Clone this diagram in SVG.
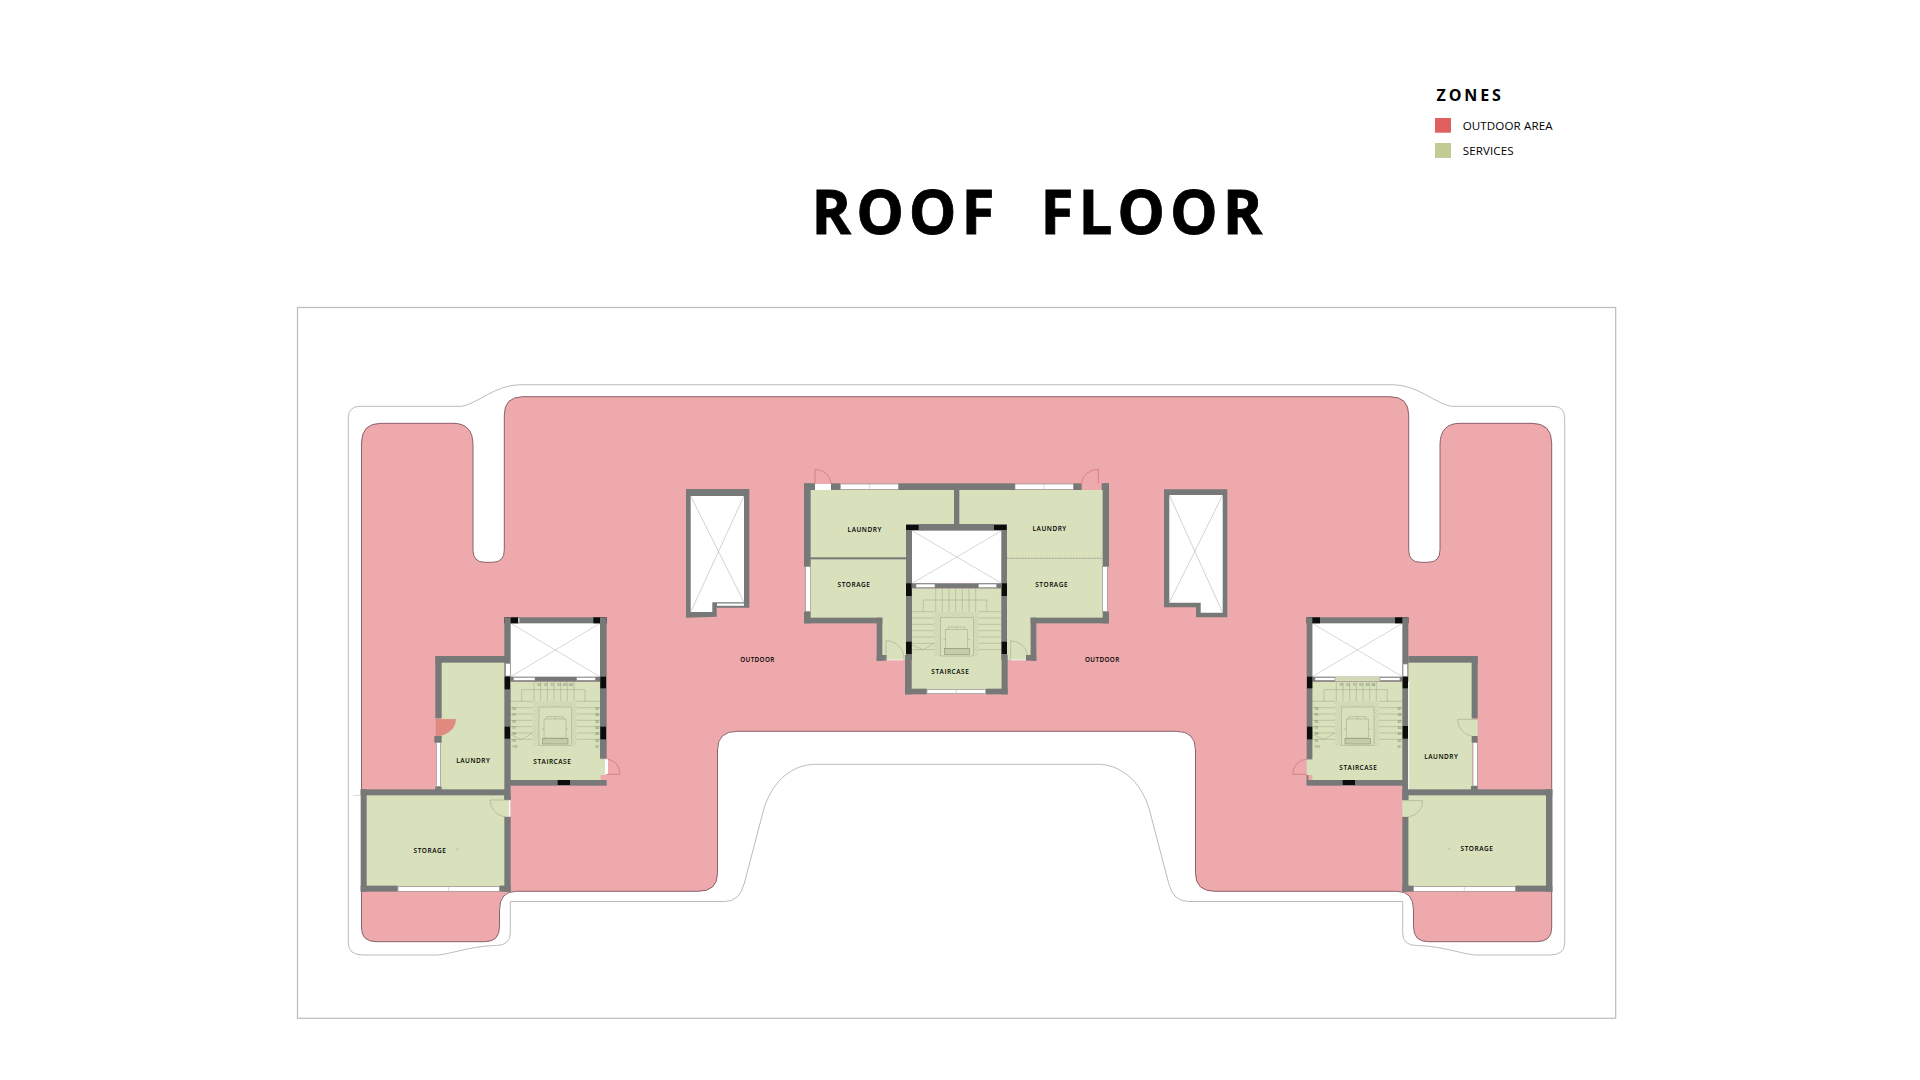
<svg xmlns="http://www.w3.org/2000/svg" width="1920" height="1080" viewBox="0 0 1920 1080">
<style>
text{font-family:"Open Sans","Noto Sans","Liberation Sans",sans-serif;fill:#000}
.w{fill:#777978}.g{fill:#d8e0bc}.k{fill:#0c0c0c}.v{fill:#fff}
.win{fill:#fff;stroke:#8f928a;stroke-width:2}
.x{stroke:#b3b3b0;stroke-width:1.6;fill:none}
.dr{fill:none;stroke:#cf6f70;stroke-width:2}
.dg{fill:none;stroke:#9aa387;stroke-width:1.6}
.s{fill:none;stroke:#939e80;stroke-width:1.3}
.l{font-size:19.5px;font-weight:600;letter-spacing:1.6px;text-anchor:middle}
.n{font-size:10px;fill:#6f7a60;text-anchor:middle}
.lg{font-size:11.6px;letter-spacing:.1px}
</style>
<defs>
<pattern id="hatch" width="7" height="7" patternUnits="userSpaceOnUse" patternTransform="rotate(45)"><rect width="7" height="7" fill="#d8e0bc"/><line x1="0" y1="0" x2="0" y2="7" stroke="#9aa585" stroke-width="1.6"/></pattern>
<g id="stairs">
<path class="s" d="M55 95V60H245V95M92 25V95M112 25V95M132 25V95M152 25V95M172 25V95M192 25V95M212 25V95M20 95H88M20 114H88M20 133H88M20 152H88M20 171H88M20 190H88M20 209H88M220 95H290M220 114H290M220 133H290M220 152H290M220 171H290M220 190H290M220 209H290M20 195L55 209L88 190"/>
<rect x="88" y="95" width="132" height="133" fill="url(#hatch)"/>
<rect x="107" y="112" width="98" height="116" class="g" stroke="#939e80" stroke-width="1.3"/>
<rect x="122" y="148" width="66" height="57" class="s"/>
<path class="s" d="M130 148V141H180V148M155 141V148M115 178H122M188 178H195"/>
<rect x="118" y="206" width="76" height="17" fill="#c2cca6" stroke="#7f8a6c" stroke-width="1.6"/>
</g>
</defs>

<g id="site">
<rect x="297.5" y="307.5" width="1318.2" height="710.8" fill="#fff" stroke="#bcbcbc" stroke-width="1.2"/>
<path d="M348.3 418Q348.3 406.3 360 406.3H461.7C477 404 495 385 520 384.7H1393C1418 385 1436 404 1451.3 406.3H1553Q1564.7 406.3 1564.7 418V943Q1564.7 955 1549.7 955H1476.7C1465 955 1443 946 1416.7 945.5Q1402.7 945.5 1402.7 933V901.5H1188.4Q1173 901.5 1168.7 883.3L1149 808.3C1140 780 1120 764.3 1097.3 764.3H815.7C793 764.3 773 780 764 808.3L744.3 883.3Q740 901.5 724.6 901.5H510.3V933Q510.3 945.5 496.3 945.5C470 946 448 955 436.3 955H363.3Q348.3 955 348.3 943Z" fill="#fff" stroke="#bcbcbc" stroke-width="1"/>
<path id="outdoor" d="M361.5 443Q361.5 423.3 381 423.3H453Q473 423.3 473 445V550Q473 562.3 485 562.3H492.3Q504.3 562.3 504.3 550V415Q504.3 396.7 523 396.7H1390Q1408.7 396.7 1408.7 415V550Q1408.7 562.3 1420.7 562.3H1428Q1440 562.3 1440 550V445Q1440 423.3 1460 423.3H1532Q1551.7 423.3 1551.7 443V928Q1551.7 941.7 1536.7 941.7H1428.3Q1413.5 941.7 1413.5 926.7V910Q1413.5 891.3 1396.7 891.3H1215Q1195.5 891.3 1195.5 873.3V750Q1195.5 731.3 1176.4 731.3H737Q717.5 731.3 717.5 750V873.3Q717.5 891.3 698 891.3H516.3Q499.5 891.3 499.5 910V926.7Q499.5 941.7 484.7 941.7H376.5Q361.5 941.7 361.5 928Z" fill="#eda9ab" stroke="#7f5560" stroke-width=".9"/>
<text x="757.5" y="661.5" font-size="6.3" font-weight="600" letter-spacing=".4" text-anchor="middle">OUTDOOR</text>
<text x="1102.3" y="662" font-size="6.3" font-weight="600" letter-spacing=".4" text-anchor="middle">OUTDOOR</text>
</g>

<g id="title"><text x="811.6" y="234" font-size="60" font-weight="700" letter-spacing="4.95" stroke="#000" stroke-width=".8" style="white-space:pre">ROOF  FLOOR</text></g>

<g id="legend">
<text x="1436.5" y="101" font-size="16" font-weight="700" letter-spacing="2.9">ZONES</text>
<rect x="1435" y="118" width="16" height="14.7" fill="#e0605f"/>
<text class="lg" x="1462.7" y="130">OUTDOOR AREA</text>
<rect x="1435" y="143" width="16" height="15" fill="#c0cc94"/>
<text class="lg" x="1462.7" y="155.3">SERVICES</text>
</g>

<g id="shaft-west">
<path class="w" d="M686 489H749.3V607.7H716.7V616.7L686 617.7Z"/>
<path class="v" d="M690.7 496H744V602.3H712.3V612H690.7Z"/>
<rect class="v" x="717" y="603.5" width="27" height="2.3"/>
<path d="M690.7 496L744 602.3M744 496L690.7 612" stroke="#b3b3b0" stroke-width=".6" fill="none"/>
</g>
<g id="shaft-east">
<path class="w" d="M1164 489.3H1227.3V617.3H1196V607.3H1164Z"/>
<path class="v" d="M1169.3 495H1222.7V612.7H1200.7V602.7H1169.3Z"/>
<path d="M1169.3 495L1222.7 612.7M1222.7 495L1169.3 602.7" stroke="#b3b3b0" stroke-width=".6" fill="none"/>
</g>

<g id="central-block" transform="translate(780 460) scale(.33333)">
<g id="c-laundry-w"><rect class="g" x="90" y="90" width="435" height="205"/><text class="l" x="254" y="215">LAUNDRY</text></g>
<g id="c-laundry-e"><rect class="g" x="535" y="90" width="435" height="205"/></g>
<g id="c-storage-w"><path class="g" d="M90 295H380V600H305V475H90Z"/></g>
<g id="c-storage-e"><path class="g" d="M680 295H970V475H752V600H680Z"/></g>
<g id="c-stair"><rect class="g" x="395" y="385" width="270" height="302"/><use href="#stairs" transform="translate(375 360)"/></g>
<g id="c-shaft"><rect class="v" x="396" y="210" width="269" height="160"/><path class="x" d="M396 212L665 370M665 212L396 370"/></g>
<g id="c-walls">
<rect class="w" x="72" y="70" width="33" height="20"/><rect class="w" x="153" y="70" width="27" height="20"/><rect class="w" x="355" y="70" width="350" height="20"/><rect class="w" x="880" y="70" width="25" height="20"/><rect class="w" x="965" y="70" width="22" height="20"/>
<rect class="v" x="105" y="72" width="48" height="18"/>
<rect class="win" x="181" y="72" width="174" height="16"/><path class="x" d="M268 72V88"/>
<rect class="win" x="705" y="72" width="175" height="16"/><path class="x" d="M792 72V88"/>
<rect class="w" x="72" y="70" width="20" height="250"/><rect class="win" x="77" y="320" width="15" height="135"/><rect class="w" x="72" y="455" width="20" height="35"/>
<rect class="w" x="72" y="473" width="235" height="17"/><rect class="w" x="290" y="473" width="17" height="129"/><rect class="w" x="290" y="585" width="30" height="17"/>
<rect class="w" x="968" y="70" width="19" height="250"/><rect class="win" x="968" y="320" width="14" height="135"/><rect class="w" x="968" y="455" width="19" height="35"/>
<rect class="w" x="752" y="473" width="235" height="17"/><rect class="w" x="752" y="473" width="17" height="129"/><rect class="w" x="738" y="585" width="31" height="17"/>
<rect class="w" x="522" y="90" width="16" height="104"/>
<rect class="w" x="90" y="292" width="290" height="6"/>
<path d="M680 295H968" stroke="#a9ad9c" stroke-width="4" stroke-dasharray="6 3" fill="none"/>
<rect class="w" x="378" y="192" width="302" height="20"/><rect class="w" x="378" y="192" width="18" height="408"/><rect class="w" x="664" y="192" width="17" height="408"/>
<rect class="k" x="378" y="195" width="38" height="15"/><rect class="k" x="642" y="195" width="38" height="15"/><rect class="k" x="378" y="370" width="17" height="38"/><rect class="k" x="665" y="370" width="16" height="38"/><rect class="k" x="378" y="545" width="17" height="37"/><rect class="k" x="665" y="545" width="16" height="37"/>
<rect class="w" x="395" y="370" width="270" height="15"/><rect class="win" x="408" y="372" width="57" height="11"/><rect class="win" x="595" y="372" width="55" height="11"/>
<rect class="w" x="375" y="585" width="20" height="118"/><rect class="w" x="665" y="585" width="18" height="118"/><rect class="w" x="375" y="686" width="65" height="17"/><rect class="w" x="618" y="686" width="65" height="17"/><rect class="win" x="441" y="688" width="176" height="13"/><path class="x" d="M529 688V701"/>
<path class="dr" d="M105 70V28A48 44 0 0 1 153 70M955 70V28A50 44 0 0 0 905 70"/>
<path class="dg" d="M318 600V542A54 54 0 0 1 372 596M692 600V542A50 50 0 0 1 742 590"/>
<path d="M320 600H370M692 600H738" stroke="#fff" stroke-width="2"/>
</g>
<text class="l" x="809" y="212">LAUNDRY</text><text class="l" x="222" y="380">STORAGE</text><text class="l" x="815" y="380">STORAGE</text><text class="l" x="511" y="641">STAIRCASE</text>
</g>

<g id="west-block" transform="translate(340 600) scale(.33333)">
<g id="w-laundry"><rect class="g" x="303" y="186" width="192" height="394"/><text class="l" x="400" y="489">LAUNDRY</text></g>
<g id="w-storage"><rect class="g" x="78" y="584" width="417" height="275"/><text class="l" x="270" y="759">STORAGE</text><path d="M352 743V752" stroke="#8a9278" stroke-width="1.4"/></g>
<g id="w-stair"><path class="g" d="M510 245H782V478H800V525H782V542H510Z"/><use href="#stairs" transform="translate(490 209)"/></g>
<g id="w-shaft"><rect class="v" x="510" y="68" width="272" height="164"/><path class="x" d="M512 70L780 230M780 70L512 230"/></g>
<g id="w-walls">
<rect class="w" x="493" y="52" width="307" height="18"/><rect class="k" x="493" y="52" width="42" height="18"/><rect class="k" x="760" y="52" width="40" height="18"/><rect class="v" x="535" y="54" width="3" height="14"/>
<rect class="w" x="493" y="52" width="19" height="548"/><rect class="w" x="780" y="52" width="20" height="424"/>
<rect class="win" x="497" y="190" width="14" height="38"/>
<rect class="w" x="510" y="230" width="272" height="15"/><rect class="win" x="520" y="232" width="65" height="9"/><rect class="win" x="710" y="232" width="56" height="9"/>
<rect class="k" x="494" y="230" width="16" height="38"/><rect class="k" x="494" y="380" width="16" height="36"/><rect class="k" x="781" y="230" width="17" height="35"/><rect class="k" x="781" y="380" width="17" height="38"/>
<rect class="w" x="510" y="540" width="290" height="17"/><rect class="k" x="653" y="540" width="37" height="15"/>
<rect class="v" x="795" y="478" width="9" height="44"/>
<rect class="w" x="286" y="168" width="209" height="20"/><rect class="w" x="286" y="168" width="19" height="187"/><rect class="w" x="283" y="408" width="22" height="20"/><rect class="win" x="289" y="428" width="13" height="132"/><rect class="w" x="286" y="560" width="19" height="20"/>
<path d="M288 358H347A59 50 0 0 1 288 408Z" fill="#e08a80" stroke="#d47a72" stroke-width="1"/>
<rect class="w" x="62" y="568" width="433" height="18"/><rect class="w" x="62" y="568" width="18" height="307"/><rect class="w" x="493" y="650" width="19" height="225"/><rect class="w" x="493" y="586" width="19" height="14"/><rect class="w" x="62" y="857" width="111" height="18"/><rect class="w" x="478" y="857" width="34" height="18"/>
<rect class="win" x="174" y="860" width="304" height="14"/><path class="x" d="M326 860V874"/>
<rect class="g" x="493" y="600" width="15" height="50"/><rect class="v" x="507" y="600" width="4" height="50"/>
<path class="dr" d="M800 523H840A40 45 0 0 0 804 478"/>
<path class="dg" d="M450 600H510M450 600A50 50 0 0 0 495 650"/>
<path d="M40 586H62" stroke="#b5b5b5" stroke-width="1.5"/>
</g>
<g id="w-stair-numbers"><text class="n" x="522" y="330">94</text><text class="n" x="522" y="349">95</text><text class="n" x="522" y="368">96</text><text class="n" x="522" y="387">97</text><text class="n" x="522" y="406">98</text><text class="n" x="522" y="425">99</text><text class="n" x="524" y="444">100</text><text class="n" x="772" y="330">87</text><text class="n" x="772" y="349">86</text><text class="n" x="772" y="368">85</text><text class="n" x="772" y="387">84</text><text class="n" x="772" y="406">83</text><text class="n" x="772" y="425">82</text><text class="n" x="772" y="444">81</text><text class="n" x="597" y="258">93</text><text class="n" x="617" y="258">92</text><text class="n" x="637" y="258">91</text><text class="n" x="657" y="258">90</text><text class="n" x="675" y="258">89</text><text class="n" x="693" y="258">88</text></g>
<text class="l" x="637" y="492">STAIRCASE</text>
</g>

<g id="east-block" transform="translate(1280 600) scale(.33333)">
<g id="e-laundry"><rect class="g" x="385" y="186" width="192" height="394"/><path class="g" d="M533 358H593V408H575Z"/><text class="l" x="484" y="477">LAUNDRY</text></g>
<g id="e-storage"><rect class="g" x="385" y="584" width="415" height="275"/><text class="l" x="591" y="753">STORAGE</text><path d="M505 745L512 749" stroke="#8a9278" stroke-width="1.4"/></g>
<g id="e-stair"><path class="g" d="M97 245H369V542H97V525H80V478H97Z"/><use href="#stairs" transform="translate(77 209)"/></g>
<g id="e-shaft"><rect class="v" x="97" y="68" width="272" height="164"/><path class="x" d="M97 70L367 230M367 70L97 230"/></g>
<g id="e-walls">
<rect class="w" x="80" y="52" width="305" height="18"/><rect class="k" x="80" y="52" width="40" height="18"/><rect class="k" x="345" y="52" width="40" height="18"/>
<rect class="w" x="80" y="52" width="17" height="426"/><rect class="w" x="367" y="52" width="18" height="548"/>
<rect class="win" x="369" y="192" width="14" height="38"/>
<rect class="w" x="97" y="230" width="270" height="15"/><rect fill="url(#hatch)" x="165" y="230" width="135" height="14"/><rect class="win" x="105" y="233" width="60" height="8"/><rect class="win" x="300" y="233" width="60" height="8"/>
<rect class="k" x="81" y="230" width="16" height="35"/><rect class="k" x="81" y="380" width="16" height="38"/><rect class="k" x="368" y="230" width="16" height="35"/><rect class="k" x="368" y="378" width="16" height="38"/>
<rect class="w" x="80" y="540" width="305" height="17"/><rect class="w" x="80" y="525" width="5" height="30"/><rect class="k" x="188" y="540" width="37" height="15"/>
<path d="M386 245V570" stroke="#fff" stroke-width="3"/>
<rect class="w" x="385" y="168" width="208" height="20"/><rect class="w" x="575" y="168" width="18" height="187"/><rect class="w" x="575" y="408" width="18" height="20"/><rect class="win" x="579" y="428" width="13" height="130"/><rect class="w" x="573" y="558" width="20" height="22"/>
<rect class="w" x="367" y="568" width="450" height="18"/><rect class="w" x="798" y="568" width="19" height="307"/><rect class="w" x="367" y="650" width="18" height="225"/><rect class="w" x="367" y="586" width="18" height="14"/><rect class="w" x="367" y="857" width="33" height="18"/><rect class="w" x="706" y="857" width="111" height="18"/>
<rect class="win" x="401" y="860" width="305" height="14"/><path class="x" d="M553 860V874"/>
<path class="g" d="M367 600H428V610L385 650H367Z"/>
<path class="dr" d="M80 523H38A42 45 0 0 1 80 478"/>
<path class="dg" d="M533 358H593M533 358A48 50 0 0 0 575 408M367 602H428A45 48 0 0 1 385 650"/>
</g>
<g id="e-stair-numbers"><text class="n" x="109" y="330">94</text><text class="n" x="109" y="349">95</text><text class="n" x="109" y="368">96</text><text class="n" x="109" y="387">97</text><text class="n" x="109" y="406">98</text><text class="n" x="109" y="425">99</text><text class="n" x="111" y="444">100</text><text class="n" x="359" y="330">87</text><text class="n" x="359" y="349">86</text><text class="n" x="359" y="368">85</text><text class="n" x="359" y="387">84</text><text class="n" x="359" y="406">83</text><text class="n" x="359" y="425">82</text><text class="n" x="359" y="444">81</text><text class="n" x="184" y="258">93</text><text class="n" x="204" y="258">92</text><text class="n" x="224" y="258">91</text><text class="n" x="243" y="258">90</text><text class="n" x="262" y="258">89</text><text class="n" x="280" y="258">88</text></g>
<text class="l" x="235" y="510">STAIRCASE</text>
</g>
</svg>
